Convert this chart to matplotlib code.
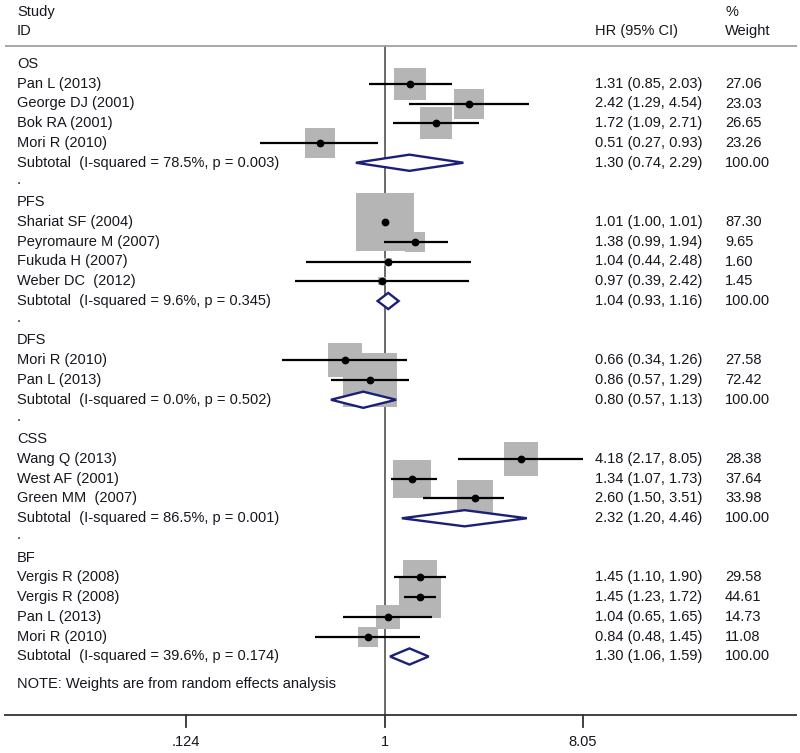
import numpy as np
import matplotlib
matplotlib.use("Agg")
import matplotlib.pyplot as plt
from matplotlib.patches import Polygon

plt.rcParams['font.family'] = ['Liberation Sans', 'DejaVu Sans']

# ---------------- data ----------------
groups = ["OS", "PFS", "DFS", "CSS", "BF"]

os_ids = ["Pan L (2013)", "George DJ (2001)", "Bok RA (2001)", "Mori R (2010)"]
os_hr = [1.31, 2.42, 1.72, 0.51]
os_lo = [0.85, 1.29, 1.09, 0.27]
os_hi = [2.03, 4.54, 2.71, 0.93]
os_w = [27.06, 23.03, 26.65, 23.26]

pfs_ids = ["Shariat SF (2004)", "Peyromaure M (2007)", "Fukuda H (2007)", "Weber DC  (2012)"]
pfs_hr = [1.01, 1.38, 1.04, 0.97]
pfs_lo = [1.00, 0.99, 0.44, 0.39]
pfs_hi = [1.01, 1.94, 2.48, 2.42]
pfs_w = [87.30, 9.65, 1.60, 1.45]

dfs_ids = ["Mori R (2010)", "Pan L (2013)"]
dfs_hr = [0.66, 0.86]
dfs_lo = [0.34, 0.57]
dfs_hi = [1.26, 1.29]
dfs_w = [27.58, 72.42]

css_ids = ["Wang Q (2013)", "West AF (2001)", "Green MM  (2007)"]
css_hr = [4.18, 1.34, 2.60]
css_lo = [2.17, 1.07, 1.50]
css_hi = [8.05, 1.73, 3.51]
css_w = [28.38, 37.64, 33.98]

bf_ids = ["Vergis R (2008)", "Vergis R (2008)", "Pan L (2013)", "Mori R (2010)"]
bf_hr = [1.45, 1.45, 1.04, 0.84]
bf_lo = [1.10, 1.23, 0.65, 0.48]
bf_hi = [1.90, 1.72, 1.65, 1.45]
bf_w = [29.58, 44.61, 14.73, 11.08]

sub_isq = [78.5, 9.6, 0.0, 86.5, 39.6]
sub_p = [0.003, 0.345, 0.502, 0.001, 0.174]
sub_hr = [1.30, 1.04, 0.80, 2.32, 1.30]
sub_lo = [0.74, 0.93, 0.57, 1.20, 1.06]
sub_hi = [2.29, 1.16, 1.13, 4.46, 1.59]

tick_vals = [0.124, 1, 8.05]
tick_labels = [".124", "1", "8.05"]

study_data = [
    (os_ids, os_hr, os_lo, os_hi, os_w),
    (pfs_ids, pfs_hr, pfs_lo, pfs_hi, pfs_w),
    (dfs_ids, dfs_hr, dfs_lo, dfs_hi, dfs_w),
    (css_ids, css_hr, css_lo, css_hi, css_w),
    (bf_ids, bf_hr, bf_lo, bf_hi, bf_w),
]

# ---------------- layout ----------------
W, H = 800, 753
fig = plt.figure(figsize=(W / 100, H / 100), dpi=100)
ax = fig.add_axes([0, 0, 1, 1])
ax.set_xscale('log')
px_center, px_per_ln = 384.5, 95.2
ax.set_xlim(np.exp(-px_center / px_per_ln), np.exp((W - px_center) / px_per_ln))
row0_px, row_px = 64.0, 19.75
ax.set_ylim((H - row0_px) / row_px, -row0_px / row_px)
ax.axis('off')

txt_color = '#16161e'
fs = 10.5
col_id = 17 / W
col_hr = 595 / W
col_w = 725 / W
yt = ax.get_yaxis_transform()   # x in axes fraction, y in data


def put(xf, row, s, ha='left'):
    ax.text(xf, row, s, transform=yt, fontsize=fs, color=txt_color,
            ha=ha, va='center')


# headers
put(col_id, -2.63, "Study")
put(col_id, -1.67, "ID")
put(col_hr, -1.67, "HR (95% CI)")
put(col_w, -2.63, "%")
put(col_w, -1.67, "Weight")

header_row = -0.91
axis_row = 32.96
ax.plot([5 / W, 797 / W], [header_row, header_row], transform=yt,
        color='#a0a0a0', lw=1.3, solid_capstyle='butt')
ax.plot([4 / W, 797 / W], [axis_row, axis_row], transform=yt,
        color='#333333', lw=1.3, solid_capstyle='butt')
ax.plot([1, 1], [header_row, axis_row], color='#505050', lw=1.2, zorder=1)

box_color = '#b5b5b5'
navy = '#1a1f78'

row = 0
for g, (ids, hr, lo, hi, w), isq, p, shr, slo, shi in zip(
        groups, study_data, sub_isq, sub_p, sub_hr, sub_lo, sub_hi):
    put(col_id, row, g)
    row += 1
    for sid, h, l, u, ww in zip(ids, hr, lo, hi, w):
        put(col_id, row, sid)
        put(col_hr, row, f"{h:.2f} ({l:.2f}, {u:.2f})")
        put(col_w, row, f"{ww:.2f}")
        ax.scatter([h], [row], s=20.5 * ww, marker='s', color=box_color,
                   linewidths=0, zorder=2)
        ax.plot([l, u], [row, row], color='black', lw=1.6, zorder=3,
                solid_capstyle='butt')
        ax.plot([h], [row], marker='o', ms=4.6, color='black', zorder=4)
        row += 1
    put(col_id, row, f"Subtotal  (I-squared = {isq:.1f}%, p = {p:.3f})")
    put(col_hr, row, f"{shr:.2f} ({slo:.2f}, {shi:.2f})")
    put(col_w, row, "100.00")
    dh = 0.41
    poly = Polygon([(slo, row), (shr, row - dh), (shi, row), (shr, row + dh)],
                   closed=True, facecolor='white', edgecolor=navy, lw=1.7,
                   zorder=5)
    ax.add_patch(poly)
    row += 1
    if g != groups[-1]:
        put(col_id, row - 0.15, ".")
        row += 1

put(col_id, row + 0.4, "NOTE: Weights are from random effects analysis")

# x axis ticks
for tv, tl in zip(tick_vals, tick_labels):
    ax.plot([tv, tv], [axis_row, axis_row + 0.61], color='#333333', lw=1.3)
    ax.text(tv, axis_row + 1.37, tl, fontsize=fs, color=txt_color,
            ha='center', va='center')

fig.savefig('out.png', dpi=100, facecolor='white')
